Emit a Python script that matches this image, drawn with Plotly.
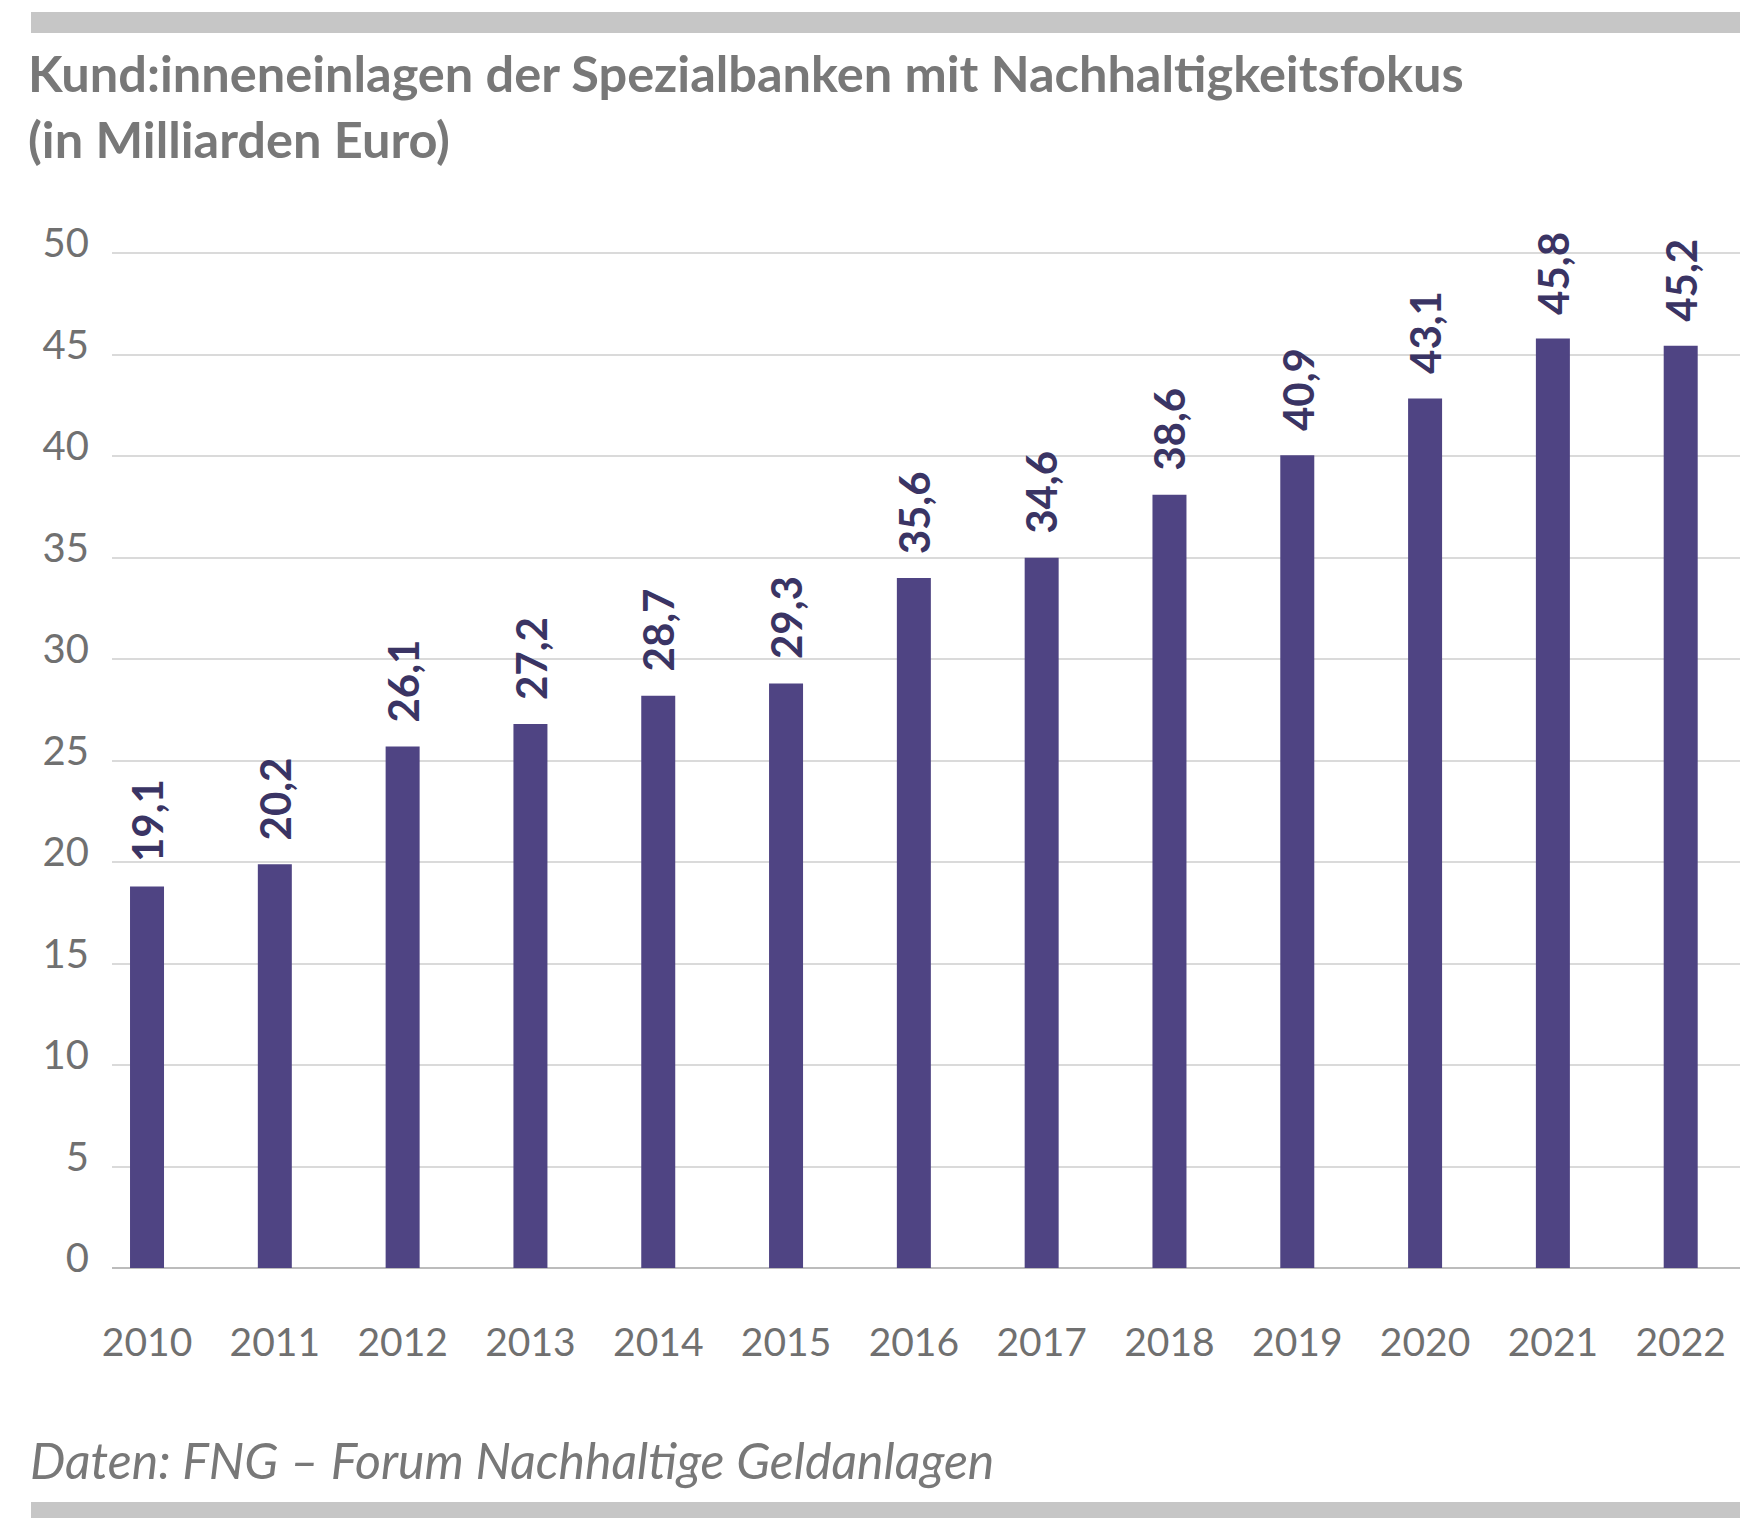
import plotly.graph_objects as go

# ---- data ----
years = [2010, 2011, 2012, 2013, 2014, 2015, 2016, 2017, 2018, 2019, 2020, 2021, 2022]
year_labels = ["2010", "2011", "2012", "2013", "2014", "2015", "2016",
               "2017", "2018", "2019", "2020", "2021", "2022"]
# bar heights as drawn in the picture (Mrd. Euro)
bar_heights = [18.8, 19.9, 25.7, 26.8, 28.2, 28.8, 34.0, 35.0, 38.1, 40.05, 42.85, 45.8, 45.45]
# value labels printed above the bars
value_labels = [19.1, 20.2, 26.1, 27.2, 28.7, 29.3, 35.6, 34.6, 38.6, 40.9, 43.1, 45.8, 45.2]
y_ticks = [0, 5, 10, 15, 20, 25, 30, 35, 40, 45, 50]

title_text = "Kund:inneneinlagen der Spezialbanken mit Nachhaltigkeitsfokus<br>(in Milliarden Euro)"
source_text = "Daten: FNG – Forum Nachhaltige Geldanlagen"

# ---- layout constants ----
W, H = 1740, 1518
ML, MR, MT, MB = 112, 0, 233, 250
PW = W - ML - MR
PH = H - MT - MB
BAR_COLOR = "#4f4483"
LABEL_COLOR = "#3a3464"
GRAY_TEXT = "#787878"
FONT = "Lato, 'Open Sans', sans-serif"


def px_x(px):
    return (px - ML) / PW


def px_y(py):
    return (H - MB - py) / PH


fig = go.Figure()
fig.add_trace(go.Bar(
    x=years,
    y=bar_heights,
    width=0.266,
    marker=dict(color=BAR_COLOR, line=dict(width=0)),
    hoverinfo="skip",
))

annotations = []
for yr, h, v in zip(years, bar_heights, value_labels):
    annotations.append(dict(
        x=yr, y=h, xref="x", yref="y",
        text=f"{v:.1f}".replace(".", ","),
        textangle=-90,
        showarrow=False,
        xanchor="center", yanchor="bottom",
        yshift=22,
        font=dict(family=FONT, size=42, color=LABEL_COLOR, weight="bold"),
    ))

# title
annotations.append(dict(
    x=px_x(26), y=px_y(40), xref="paper", yref="paper",
    text=title_text, showarrow=False, align="left",
    xanchor="left", yanchor="top",
    font=dict(family=FONT, size=50.5, color=GRAY_TEXT, weight="bold"),
))
# source
annotations.append(dict(
    x=px_x(28), y=px_y(1460), xref="paper", yref="paper",
    text=f"<i>{source_text}</i>", showarrow=False, align="left",
    xanchor="left", yanchor="middle",
    font=dict(family=FONT, size=50, color=GRAY_TEXT, weight="normal"),
))

shapes = [
    dict(type="rect", xref="paper", yref="paper",
         x0=px_x(31), x1=px_x(W), y0=px_y(33), y1=px_y(12),
         fillcolor="#c6c6c6", line=dict(width=0), layer="below"),
    dict(type="rect", xref="paper", yref="paper",
         x0=px_x(31), x1=px_x(W), y0=px_y(H), y1=px_y(1502),
         fillcolor="#c6c6c6", line=dict(width=0), layer="below"),
]

fig.update_layout(
    width=W, height=H,
    margin=dict(l=ML, r=MR, t=MT, b=MB),
    paper_bgcolor="white", plot_bgcolor="white",
    showlegend=False,
    annotations=annotations,
    shapes=shapes,
    font=dict(family=FONT, color=GRAY_TEXT),
    xaxis=dict(
        range=[2009.726, 2022.464],
        tickmode="array", tickvals=years, ticktext=year_labels,
        showgrid=False, zeroline=False, showline=False, ticks="",
        tickfont=dict(family=FONT, size=39, color="#707070"),
        ticklabelstandoff=48,
        fixedrange=True,
    ),
    yaxis=dict(
        range=[0, 51],
        tickmode="array", tickvals=y_ticks,
        showgrid=True, gridcolor="#dadada", gridwidth=2,
        zeroline=True, zerolinecolor="#bcbcbc", zerolinewidth=2,
        showline=False, ticks="",
        tickfont=dict(family=FONT, size=40, color="#707070"),
        ticklabelstandoff=22,
        ticklabelshift=-10,
        fixedrange=True,
    ),
)

fig.write_html(
    "out.html",
    config={"displayModeBar": False},
    post_script="document.body.style.margin='0';document.body.style.overflow='hidden';",
)
